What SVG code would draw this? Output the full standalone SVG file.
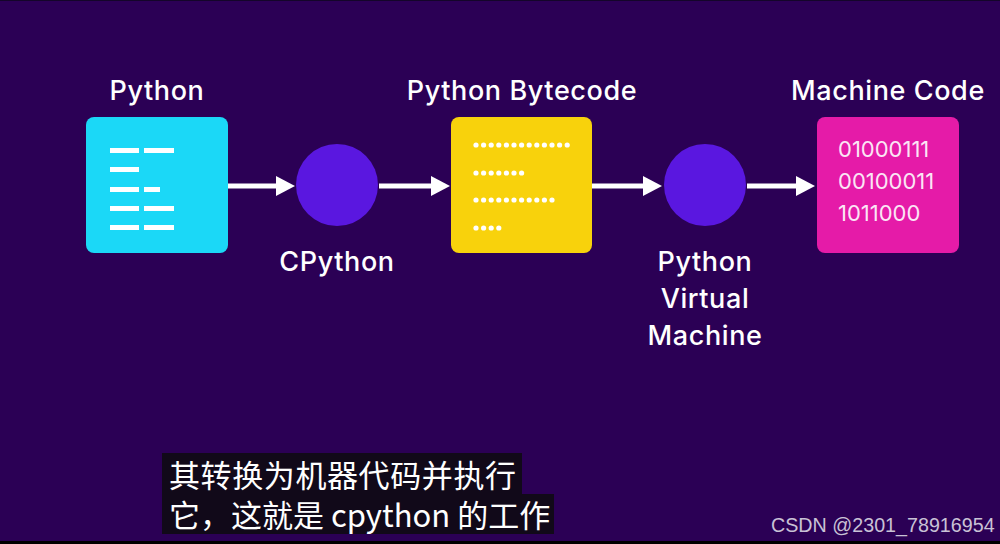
<svg xmlns="http://www.w3.org/2000/svg" width="1000" height="544" viewBox="0 0 1000 544">
  <style>
    .label { font-family: "Inter", "Open Sans", "Liberation Sans", sans-serif; font-weight: 500; font-size: 27px; letter-spacing: 0.6px; fill: #ffffff; text-anchor: middle; }
    .bits { font-family: "Inter", "Open Sans", "Liberation Sans", sans-serif; font-weight: 400; font-size: 22px; fill: #fbe6f5; }
    .box { rx: 8; ry: 8; }
    .dash { fill: #ffffff; }
    .dot { fill: #ffffff; }
    .proc { fill: #5a17e0; }
    .shaft { stroke: #ffffff; stroke-width: 5; fill: none; }
    .head { fill: #ffffff; }
    .sub { font-family: "Noto Sans CJK SC", "Liberation Sans", sans-serif; font-size: 31px; fill: #ffffff; }
    .mark { font-family: "Liberation Sans", "Noto Sans", sans-serif; font-size: 19.7px; fill: #c9c2d6; }
  </style>
  <defs>
    <circle id="d" r="2.6" class="dot"/>
  </defs>

  <!-- background -->
  <rect x="0" y="0" width="1000" height="544" fill="#2b0055"/>
  <rect x="0" y="0" width="1000" height="1" fill="#14052a"/>
  <rect x="0" y="541" width="1000" height="3" fill="#000000"/>

  <!-- connectors -->
  <g id="connectors">
    <line class="shaft" x1="228" y1="186" x2="278" y2="186"/>
    <polygon class="head" points="276,176 295,186 276,196"/>
    <line class="shaft" x1="379" y1="186" x2="433" y2="186"/>
    <polygon class="head" points="431,176 450,186 431,196"/>
    <line class="shaft" x1="592" y1="186" x2="645" y2="186"/>
    <polygon class="head" points="643,176 662,186 643,196"/>
    <line class="shaft" x1="747" y1="186" x2="798" y2="186"/>
    <polygon class="head" points="796,176 815,186 796,196"/>
  </g>

  <!-- source code -->
  <g id="python">
    <text class="label" x="157" y="100">Python</text>
    <rect class="box" x="86" y="117" width="142" height="136" fill="#1bd8f7"/>
    <rect class="dash" x="110" y="148" width="29" height="5"/>
    <rect class="dash" x="144" y="148" width="30" height="5"/>
    <rect class="dash" x="110" y="167" width="29" height="5"/>
    <rect class="dash" x="110" y="187" width="29" height="5"/>
    <rect class="dash" x="144" y="187" width="16" height="5"/>
    <rect class="dash" x="110" y="206" width="29" height="5"/>
    <rect class="dash" x="144" y="206" width="30" height="5"/>
    <rect class="dash" x="110" y="225" width="29" height="5"/>
    <rect class="dash" x="144" y="225" width="30" height="5"/>
  </g>

  <!-- compiler -->
  <g id="cpython">
    <circle class="proc" cx="337" cy="185" r="41"/>
    <text class="label" x="337" y="271">CPython</text>
  </g>

  <!-- bytecode -->
  <g id="bytecode">
    <text class="label" x="522" y="100">Python Bytecode</text>
    <rect class="box" x="451" y="117" width="141" height="136" fill="#f8d20c"/>
    <g transform="translate(476,145)">
      <use href="#d" x="0"/><use href="#d" x="7.6"/><use href="#d" x="15.2"/><use href="#d" x="22.8"/><use href="#d" x="30.4"/><use href="#d" x="38"/><use href="#d" x="45.6"/><use href="#d" x="53.2"/><use href="#d" x="60.8"/><use href="#d" x="68.4"/><use href="#d" x="76"/><use href="#d" x="83.6"/><use href="#d" x="91.2"/>
    </g>
    <g transform="translate(476,173)">
      <use href="#d" x="0"/><use href="#d" x="7.6"/><use href="#d" x="15.2"/><use href="#d" x="22.8"/><use href="#d" x="30.4"/><use href="#d" x="38"/><use href="#d" x="45.6"/>
    </g>
    <g transform="translate(476,200)">
      <use href="#d" x="0"/><use href="#d" x="7.6"/><use href="#d" x="15.2"/><use href="#d" x="22.8"/><use href="#d" x="30.4"/><use href="#d" x="38"/><use href="#d" x="45.6"/><use href="#d" x="53.2"/><use href="#d" x="60.8"/><use href="#d" x="68.4"/><use href="#d" x="76"/>
    </g>
    <g transform="translate(476,228)">
      <use href="#d" x="0"/><use href="#d" x="7.6"/><use href="#d" x="15.2"/><use href="#d" x="22.8"/>
    </g>
  </g>

  <!-- interpreter -->
  <g id="pvm">
    <circle class="proc" cx="705" cy="185" r="41"/>
    <text class="label" x="705" y="271">Python</text>
    <text class="label" x="705" y="308">Virtual</text>
    <text class="label" x="705" y="345">Machine</text>
  </g>

  <!-- machine code -->
  <g id="machine">
    <text class="label" x="888" y="100">Machine Code</text>
    <rect class="box" x="817" y="117" width="142" height="136" fill="#e51ba8"/>
    <text class="bits" x="838" y="157">01000111</text>
    <text class="bits" x="838" y="189">00100011</text>
    <text class="bits" x="838" y="221">1011000</text>
  </g>

  <!-- caption, two lines on dark bars -->
  <g id="caption">
    <rect x="162" y="453" width="360" height="42" fill="#110919"/>
    <rect x="162" y="494" width="392" height="40" fill="#110919"/>
    <text class="sub"><tspan x="169" y="487" letter-spacing="0.6">其转换为机器代码并执行</tspan><tspan x="169" y="527">它，这就是 cpython 的工作</tspan></text>
  </g>

  <text class="mark" x="771" y="532">CSDN @2301_78916954</text>
</svg>
